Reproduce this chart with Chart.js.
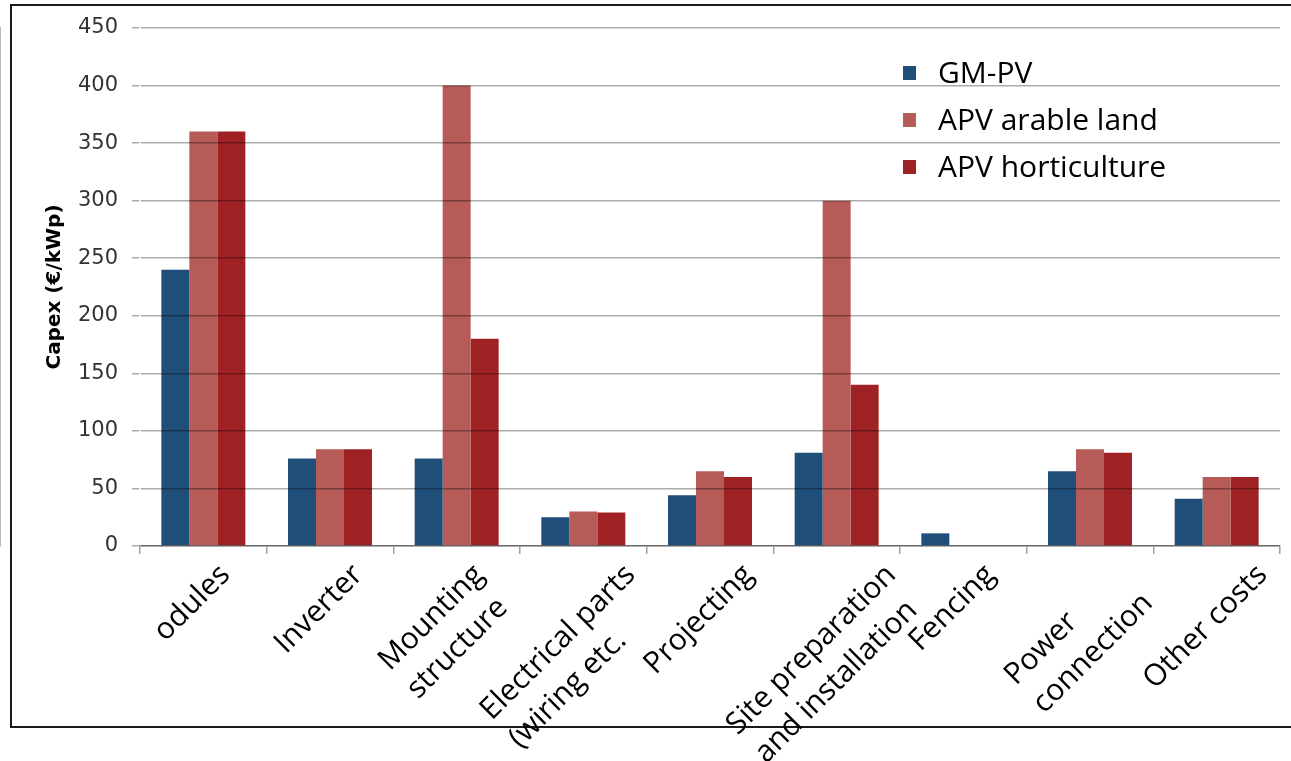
<!DOCTYPE html>
<html>
<head>
<meta charset="utf-8">
<script src="https://cdn.jsdelivr.net/npm/chart.js@4.4.1/dist/chart.umd.min.js"></script>
<style>
  html, body { margin: 0; padding: 0; background: #fff; }
  #wrap { width: 1291px; height: 761px; position: relative; }
</style>
</head>
<body>
<div id="wrap"><canvas id="c" width="1291" height="761"></canvas></div>
<script>
// Cost categories (multi-line labels are arrays)
const categories = [
  'odules',
  'Inverter',
  ['Mounting', 'structure'],
  ['Electrical parts', '(wiring etc.'],
  'Projecting',
  ['Site preparation', 'and installation'],
  'Fencing',
  ['Power', 'connection'],
  'Other costs'
];

// Capex per category in €/kWp
const gmPv            = [240, 76, 76, 25, 44, 81, 11, 65, 41];
const apvArableLand   = [360, 84, 400, 30, 65, 300, 0, 84, 60];
const apvHorticulture = [360, 84, 180, 29, 60, 140, 0, 81, 60];

const seriesNames = ['GM-PV', 'APV arable land', 'APV horticulture'];
const seriesColors = ['#1f4e79', '#b75b59', '#9e2224'];

const yTicks = [0, 50, 100, 150, 200, 250, 300, 350, 400, 450];
const yTitle = 'Capex (€/kWp)';

const labelFont = '30px "Open Sans"';

// Frame around the whole figure (open on the right side)
const framePlugin = {
  id: 'frame',
  beforeDraw(chart) {
    const ctx = chart.ctx;
    ctx.save();
    ctx.fillStyle = '#fff';
    ctx.fillRect(0, 0, chart.width, chart.height);
    ctx.strokeStyle = '#1a1a1a';
    ctx.lineWidth = 2;
    ctx.beginPath();
    ctx.moveTo(1300, 5);
    ctx.lineTo(11, 5);
    ctx.lineTo(11, 727);
    ctx.lineTo(1300, 727);
    ctx.stroke();
    ctx.restore();
  }
};

// Category labels rotated 45°, left-aligned lines, block centred under its category
const categoryLabels = {
  id: 'categoryLabels',
  afterDraw(chart) {
    const ctx = chart.ctx;
    const xs = chart.scales.x;
    const top = xs.top + 10;
    const lineH = 40;
    const r2 = Math.SQRT2;
    ctx.save();
    ctx.font = labelFont;
    ctx.fillStyle = '#000';
    ctx.textAlign = 'left';
    ctx.textBaseline = 'middle';
    chart.data.labels.forEach((lab, i) => {
      const lines = Array.isArray(lab) ? lab : [lab];
      const W = Math.max(...lines.map(l => ctx.measureText(l).width));
      const H = lines.length * lineH;
      const cx = xs.getPixelForValue(i) - 11;
      const ox = cx - (W + H) / (2 * r2);
      const oy = top + W / r2;
      ctx.save();
      ctx.translate(ox, oy);
      ctx.rotate(-Math.PI / 4);
      lines.forEach((l, k) => ctx.fillText(l, 0, (k + 0.5) * lineH));
      ctx.restore();
    });
    ctx.restore();
  }
};

// Legend drawn inside the plot area, top right
const insideLegend = {
  id: 'insideLegend',
  afterDraw(chart) {
    const ctx = chart.ctx;
    const area = chart.chartArea;
    const x0 = area.left + 763;
    const y0 = 73;
    const step = 47;
    ctx.save();
    ctx.font = labelFont;
    ctx.textBaseline = 'middle';
    ctx.textAlign = 'left';
    chart.data.datasets.forEach((ds, i) => {
      const y = y0 + i * step;
      ctx.fillStyle = ds.backgroundColor;
      ctx.fillRect(x0, y - 7, 13, 14);
      ctx.fillStyle = '#000';
      ctx.fillText(ds.label, x0 + 35, y + 1);
    });
    ctx.restore();
  }
};

const datasets = [gmPv, apvArableLand, apvHorticulture].map((vals, i) => ({
  label: seriesNames[i],
  data: vals,
  backgroundColor: seriesColors[i],
  borderWidth: 0,
  barPercentage: 1.0,
  categoryPercentage: 0.663
}));

new Chart(document.getElementById('c'), {
  type: 'bar',
  data: { labels: categories, datasets },
  plugins: [framePlugin, categoryLabels, insideLegend],
  options: {
    responsive: false,
    animation: false,
    devicePixelRatio: 1,
    layout: { padding: { left: 0, right: 11, top: 28, bottom: 0 } },
    plugins: {
      legend: { display: false },
      tooltip: { enabled: false }
    },
    scales: {
      x: {
        offset: true,
        afterFit(scale) { scale.height = 215; },
        grid: {
          offset: true,
          drawOnChartArea: false,
          drawTicks: true,
          tickLength: 8,
          color: '#a0a0a0',
          lineWidth: 1.5
        },
        border: { color: '#a0a0a0', width: 1.5 },
        ticks: { display: false }
      },
      y: {
        min: 0,
        max: 450,
        afterFit(scale) { scale.width = 140; },
        afterBuildTicks(scale) { scale.ticks = yTicks.map(v => ({ value: v })); },
        grid: {
          z: 1,
          color: 'rgba(0,0,0,0.33)',
          lineWidth: 1.5,
          tickLength: 8,
          drawTicks: true
        },
        border: { color: '#a0a0a0', width: 1.5 },
        title: {
          display: true,
          text: yTitle,
          color: '#000',
          font: { family: '"DejaVu Sans"', size: 20, weight: 'bold' },
          padding: { top: 43, bottom: 0 }
        },
        ticks: {
          color: '#333',
          padding: 14,
          font: { family: '"DejaVu Sans"', size: 21 }
        }
      }
    }
  }
});
</script>
</body>
</html>
